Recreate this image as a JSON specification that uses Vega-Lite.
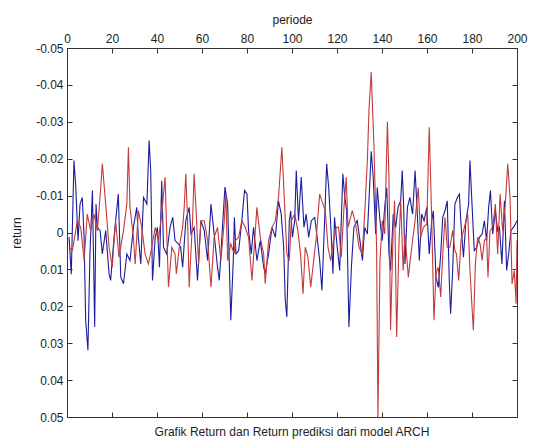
{
  "$schema": "https://vega.github.io/schema/vega-lite/v6.json",
  "width": 450,
  "height": 369,
  "autosize": {"type": "none"},
  "padding": {"left": 67, "top": 48, "right": 23, "bottom": 24},
  "background": "white",
  "config": {
    "view": {"stroke": "#333", "strokeWidth": 1},
    "font": "Liberation Sans",
    "axis": {"labelFont": "Liberation Sans", "labelFontSize": 12, "labelColor": "#222", "titleFont": "Liberation Sans", "titleFontSize": 12, "titleFontWeight": "normal", "titleColor": "#222", "domainColor": "#333", "tickColor": "#333", "grid": false}
  },
  "title": {"text": "Grafik Return dan Return prediksi dari model ARCH", "orient": "bottom", "offset": 4, "fontSize": 12, "fontWeight": "normal", "font": "Liberation Sans", "color": "#222"},
  "datasets": {
    "ret": [
      {"p":0.9,"v":0.0013},{"p":1.9,"v":0.0113},{"p":3.1,"v":-0.0195},{"p":3.9,"v":-0.0123},{"p":4.9,"v":0.0022},{"p":5.8,"v":-0.0077},{"p":6.8,"v":-0.0095},{"p":7.6,"v":0.0013},{"p":8.3,"v":0.0238},{"p":9.3,"v":0.0319},{"p":10.2,"v":0.0058},{"p":11.3,"v":-0.0114},{"p":12.3,"v":0.0256},{"p":12.9,"v":-0.0077},{"p":13.5,"v":-0.0014},{"p":14.7,"v":-0.0005},{"p":15.7,"v":0.0058},{"p":17.2,"v":-0.0005},{"p":18.7,"v":0.0112},{"p":19.4,"v":0.013},{"p":20.9,"v":0.0013},{"p":22.8,"v":-0.0104},{"p":23.9,"v":0.0121},{"p":25.1,"v":0.0139},{"p":26.6,"v":0.0058},{"p":28,"v":0.0076},{"p":29.5,"v":-0.0014},{"p":31,"v":-0.0068},{"p":31.7,"v":0.0013},{"p":32.8,"v":0.0085},{"p":34,"v":-0.0095},{"p":35.5,"v":-0.0077},{"p":36.5,"v":-0.0249},{"p":37.2,"v":-0.0168},{"p":38,"v":0.013},{"p":39.2,"v":0.0013},{"p":40.2,"v":-0.0014},{"p":41.1,"v":0.0094},{"p":42.1,"v":-0.014},{"p":42.9,"v":0.004},{"p":44.3,"v":0.0058},{"p":45.8,"v":-0.0014},{"p":47,"v":-0.0041},{"p":48,"v":0.0022},{"p":49.5,"v":0.0031},{"p":50.5,"v":0.004},{"p":51.4,"v":0.0094},{"p":52.8,"v":-0.0032},{"p":54.3,"v":-0.0068},{"p":55.1,"v":0.0004},{"p":56.5,"v":-0.0014},{"p":58,"v":0.013},{"p":59.5,"v":-0.0032},{"p":61,"v":-0.0005},{"p":62.5,"v":0.0076},{"p":64,"v":-0.0077},{"p":65.4,"v":0.0004},{"p":66.9,"v":0.0094},{"p":67.7,"v":0.013},{"p":69.1,"v":-0.0014},{"p":70.2,"v":-0.0123},{"p":71.4,"v":-0.0077},{"p":72.1,"v":0.0076},{"p":72.8,"v":0.0238},{"p":73.9,"v":0.0076},{"p":74.4,"v":-0.0041},{"p":75.1,"v":0.0058},{"p":76.3,"v":0.0049},{"p":77.7,"v":-0.0032},{"p":78.9,"v":-0.0114},{"p":80,"v":-0.0104},{"p":80.7,"v":-0.0005},{"p":81.9,"v":0.0058},{"p":82.9,"v":-0.0014},{"p":84.4,"v":0.0076},{"p":85.9,"v":0.0022},{"p":87.4,"v":0.0094},{"p":88.1,"v":0.0112},{"p":89.6,"v":0.0058},{"p":91.1,"v":-0.0014},{"p":92.6,"v":0.0013},{"p":94,"v":-0.0086},{"p":95.2,"v":-0.005},{"p":96.3,"v":0.004},{"p":97,"v":0.0184},{"p":97.7,"v":0.0229},{"p":98.8,"v":-0.0032},{"p":99.4,"v":-0.0059},{"p":100.2,"v":0.0013},{"p":101.2,"v":-0.0032},{"p":101.9,"v":-0.0168},{"p":102.9,"v":-0.0032},{"p":104.1,"v":-0.015},{"p":105.3,"v":-0.0014},{"p":106.3,"v":-0.005},{"p":107.4,"v":0.0013},{"p":108.6,"v":-0.0032},{"p":110.1,"v":-0.0041},{"p":111.5,"v":0.0031},{"p":112.3,"v":0.0076},{"p":113.3,"v":0.0157},{"p":114.5,"v":-0.0032},{"p":115.4,"v":-0.0186},{"p":116.3,"v":-0.0123},{"p":117.5,"v":0.0013},{"p":118.2,"v":0.0112},{"p":118.9,"v":-0.0041},{"p":120.1,"v":0.004},{"p":121.2,"v":0.0103},{"p":121.9,"v":-0.0032},{"p":122.6,"v":-0.0159},{"p":123.4,"v":-0.01},{"p":124.3,"v":-0.0059},{"p":125.3,"v":0.0256},{"p":126.4,"v":0.0094},{"p":127.5,"v":-0.0014},{"p":129,"v":-0.0032},{"p":130.2,"v":0.0022},{"p":131.3,"v":0.0076},{"p":132.3,"v":-0.0014},{"p":133.5,"v":0.0004},{"p":134.7,"v":-0.015},{"p":135.2,"v":-0.022},{"p":136.1,"v":-0.015},{"p":137.2,"v":0.0004},{"p":137.9,"v":-0.0122},{"p":139.1,"v":-0.0032},{"p":140.1,"v":0.0022},{"p":141.2,"v":-0.0068},{"p":142.1,"v":-0.0122},{"p":143.1,"v":0.0058},{"p":143.8,"v":0.0103},{"p":145,"v":-0.005},{"p":146.1,"v":-0.0014},{"p":147.1,"v":-0.0068},{"p":148.3,"v":-0.0086},{"p":149,"v":-0.0168},{"p":149.6,"v":-0.0077},{"p":150.2,"v":0.0085},{"p":151.3,"v":-0.0068},{"p":152.4,"v":-0.0095},{"p":153.6,"v":-0.005},{"p":154.7,"v":-0.0168},{"p":155.7,"v":-0.005},{"p":156.6,"v":0.0076},{"p":157.6,"v":-0.005},{"p":158.7,"v":-0.0032},{"p":159.9,"v":-0.0068},{"p":161,"v":0.0058},{"p":162.1,"v":-0.0032},{"p":162.8,"v":-0.0059},{"p":164,"v":0.0121},{"p":165,"v":0.0149},{"p":166.1,"v":0.0058},{"p":167,"v":-0.0041},{"p":168,"v":-0.0059},{"p":169,"v":-0.0086},{"p":169.9,"v":0.013},{"p":170.5,"v":0.022},{"p":171.4,"v":0.0103},{"p":172.4,"v":-0.0077},{"p":173.5,"v":-0.0095},{"p":174.4,"v":-0.0104},{"p":175.1,"v":-0.0023},{"p":176.2,"v":0.0067},{"p":177.3,"v":-0.0032},{"p":178.5,"v":-0.0077},{"p":179.1,"v":-0.0195},{"p":180,"v":-0.0077},{"p":181,"v":0.0049},{"p":182.1,"v":0.004},{"p":183.3,"v":0.0013},{"p":184.5,"v":0.0004},{"p":185.5,"v":-0.0032},{"p":186.5,"v":0.0022},{"p":187.4,"v":-0.0068},{"p":188.2,"v":-0.0114},{"p":189.2,"v":0.0004},{"p":190.4,"v":-0.0059},{"p":191.4,"v":-0.0005},{"p":192.2,"v":-0.0014},{"p":193.3,"v":0.0085},{"p":194.4,"v":-0.0086},{"p":195.4,"v":0.0103},{"p":196.3,"v":0.0058},{"p":197.3,"v":-0.0005},{"p":198.4,"v":-0.0014},{"p":199.3,"v":-0.0023},{"p":200,"v":-0.0032}
    ],
    "pred": [
      {"p":0.9,"v":0.004},{"p":2.4,"v":0.0049},{"p":4.6,"v":-0.0032},{"p":6.1,"v":-0.0014},{"p":7.6,"v":0.0076},{"p":9,"v":-0.005},{"p":10.5,"v":-0.0005},{"p":12,"v":-0.005},{"p":13.5,"v":-0.0005},{"p":15,"v":-0.0122},{"p":15.7,"v":-0.0186},{"p":17.2,"v":-0.0077},{"p":18.7,"v":0.004},{"p":20.1,"v":0.0094},{"p":21.6,"v":-0.0032},{"p":23.1,"v":0.0067},{"p":24.6,"v":0.0013},{"p":25.1,"v":-0.0005},{"p":26.6,"v":-0.0077},{"p":27.3,"v":-0.0231},{"p":28,"v":-0.0068},{"p":29.5,"v":0.0013},{"p":30.3,"v":0.0085},{"p":31.7,"v":-0.0059},{"p":33.2,"v":-0.0014},{"p":34.7,"v":0.0058},{"p":36.2,"v":0.0085},{"p":37.7,"v":0.004},{"p":39.2,"v":-0.0014},{"p":40.6,"v":0.0022},{"p":42.1,"v":-0.005},{"p":43.6,"v":-0.015},{"p":44.3,"v":-0.0005},{"p":45.1,"v":0.0148},{"p":46.6,"v":0.004},{"p":48,"v":0.0058},{"p":48.6,"v":0.0112},{"p":49.9,"v":0.004},{"p":51.4,"v":-0.0014},{"p":52.1,"v":-0.0068},{"p":52.8,"v":-0.0159},{"p":53.6,"v":-0.0032},{"p":54.3,"v":0.0148},{"p":55.8,"v":-0.0032},{"p":56.5,"v":-0.0159},{"p":57.3,"v":-0.0068},{"p":58.5,"v":0.0085},{"p":59.5,"v":-0.0032},{"p":61,"v":-0.0032},{"p":62.5,"v":0.0022},{"p":64,"v":0.0148},{"p":65.4,"v":0.0013},{"p":66.9,"v":-0.0014},{"p":68.4,"v":0.0076},{"p":69.9,"v":-0.0032},{"p":70.6,"v":-0.0104},{"p":71.4,"v":0.0076},{"p":72.8,"v":0.0031},{"p":74.3,"v":0.0058},{"p":74.8,"v":0.0022},{"p":76.3,"v":0.0013},{"p":77.7,"v":-0.0032},{"p":79.2,"v":-0.0014},{"p":80.7,"v":0.0013},{"p":82.2,"v":0.013},{"p":83.7,"v":-0.0005},{"p":84.4,"v":-0.0068},{"p":85.9,"v":0.0013},{"p":87.4,"v":0.0058},{"p":88.1,"v":0.0139},{"p":89.6,"v":0.0022},{"p":91.1,"v":-0.0014},{"p":92.6,"v":-0.0032},{"p":94,"v":-0.0095},{"p":95.5,"v":-0.0231},{"p":96.7,"v":-0.0077},{"p":97.7,"v":0.0058},{"p":98.8,"v":0.0076},{"p":99.7,"v":-0.0032},{"p":101.2,"v":-0.005},{"p":102.6,"v":-0.0005},{"p":103.8,"v":0.0058},{"p":104.9,"v":0.0166},{"p":105.9,"v":0.004},{"p":107.1,"v":0.0067},{"p":108.3,"v":0.0148},{"p":109.3,"v":0.0094},{"p":110.8,"v":0.0013},{"p":112.3,"v":-0.0104},{"p":113.8,"v":-0.0077},{"p":114.8,"v":-0.0059},{"p":116,"v":0.004},{"p":117.2,"v":0.0076},{"p":118.2,"v":0.0031},{"p":119.7,"v":-0.0014},{"p":120.7,"v":-0.0014},{"p":121.9,"v":0.0067},{"p":123.1,"v":-0.0068},{"p":124.1,"v":-0.015},{"p":124.9,"v":-0.0014},{"p":126.8,"v":-0.0059},{"p":128.3,"v":-0.0023},{"p":129.8,"v":0.004},{"p":131.2,"v":0.0058},{"p":132.3,"v":-0.005},{"p":133.5,"v":-0.0195},{"p":134.2,"v":-0.033},{"p":135.2,"v":-0.0435},{"p":136.4,"v":-0.024},{"p":137.6,"v":0.004},{"p":138.2,"v":0.05},{"p":139.1,"v":0.0076},{"p":140.1,"v":-0.0032},{"p":141.2,"v":0.0004},{"p":142.4,"v":-0.03},{"p":143.1,"v":-0.015},{"p":143.8,"v":0.0265},{"p":145,"v":-0.0014},{"p":145.6,"v":-0.0086},{"p":146.5,"v":0.0283},{"p":147.5,"v":0.004},{"p":148.3,"v":-0.0086},{"p":148.8,"v":-0.0005},{"p":149.4,"v":0.0103},{"p":150.2,"v":0.0004},{"p":151.7,"v":0.0121},{"p":153.2,"v":0.004},{"p":154.7,"v":-0.0032},{"p":156.1,"v":-0.0122},{"p":157.2,"v":0.0013},{"p":158.4,"v":-0.0014},{"p":159.9,"v":-0.0023},{"p":161,"v":-0.0285},{"p":162.1,"v":-0.0032},{"p":163.1,"v":0.0238},{"p":164,"v":0.0112},{"p":165,"v":0.0094},{"p":166.1,"v":0.0175},{"p":167,"v":0.0058},{"p":168,"v":-0.0041},{"p":169,"v":0.004},{"p":170.2,"v":0.004},{"p":171.4,"v":-0.0005},{"p":172.4,"v":0.0049},{"p":173.1,"v":0.0058},{"p":174.1,"v":0.013},{"p":175.1,"v":0.0022},{"p":176.6,"v":-0.0014},{"p":178.1,"v":-0.005},{"p":179.1,"v":0.0103},{"p":180,"v":0.0202},{"p":180.6,"v":0.0265},{"p":181.5,"v":0.0085},{"p":182.5,"v":0.0013},{"p":183.6,"v":0.0031},{"p":184.5,"v":0.0076},{"p":185.5,"v":0.0022},{"p":186.5,"v":0.0013},{"p":187.1,"v":0.0121},{"p":188,"v":-0.0005},{"p":189.2,"v":-0.0014},{"p":190.4,"v":-0.0077},{"p":191.4,"v":0.0058},{"p":192.5,"v":-0.0104},{"p":193.6,"v":-0.0005},{"p":194.8,"v":-0.0077},{"p":195.9,"v":-0.0186},{"p":196.9,"v":-0.0095},{"p":197.8,"v":0.0139},{"p":198.8,"v":0.0103},{"p":199.6,"v":0.0193},{"p":200,"v":0.0022}
    ]
  },
  "resolve": {"axis": {"x": "independent", "y": "independent"}},
  "layer": [
    {
      "data": {"name": "ret"},
      "mark": {"type": "line", "color": "#1c1c9c", "strokeWidth": 1.1, "clip": true},
      "encoding": {
        "x": {"field": "p", "type": "quantitative", "scale": {"domain": [0, 200], "nice": false, "zero": false},
          "axis": {"orient": "top", "title": "periode", "values": [0,20,40,60,80,100,120,140,160,180,200], "tickSize": -5, "labelPadding": 8, "titlePadding": 6, "domain": false, "labelFlush": false}},
        "y": {"field": "v", "type": "quantitative", "scale": {"domain": [-0.05, 0.05], "nice": false, "reverse": true},
          "axis": {"orient": "left", "title": "return", "values": [-0.05,-0.04,-0.03,-0.02,-0.01,0,0.01,0.02,0.03,0.04,0.05], "labelExpr": "replace(format(datum.value, '.2~f'), '\u2212', '-')", "tickSize": -5, "labelPadding": 9, "titlePadding": 12, "domain": false}}
      }
    },
    {
      "data": {"name": "pred"},
      "mark": {"type": "line", "color": "#c43a3a", "strokeWidth": 1.1, "clip": true},
      "encoding": {
        "x": {"field": "p", "type": "quantitative", "scale": {"domain": [0, 200], "nice": false, "zero": false},
          "axis": {"orient": "bottom", "title": null, "labels": false, "values": [0,20,40,60,80,100,120,140,160,180,200], "tickSize": -5, "domain": false}},
        "y": {"field": "v", "type": "quantitative", "scale": {"domain": [-0.05, 0.05], "nice": false, "reverse": true},
          "axis": {"orient": "right", "title": null, "labels": false, "values": [-0.05,-0.04,-0.03,-0.02,-0.01,0,0.01,0.02,0.03,0.04,0.05], "tickSize": -5, "domain": false}}
      }
    }
  ]
}
